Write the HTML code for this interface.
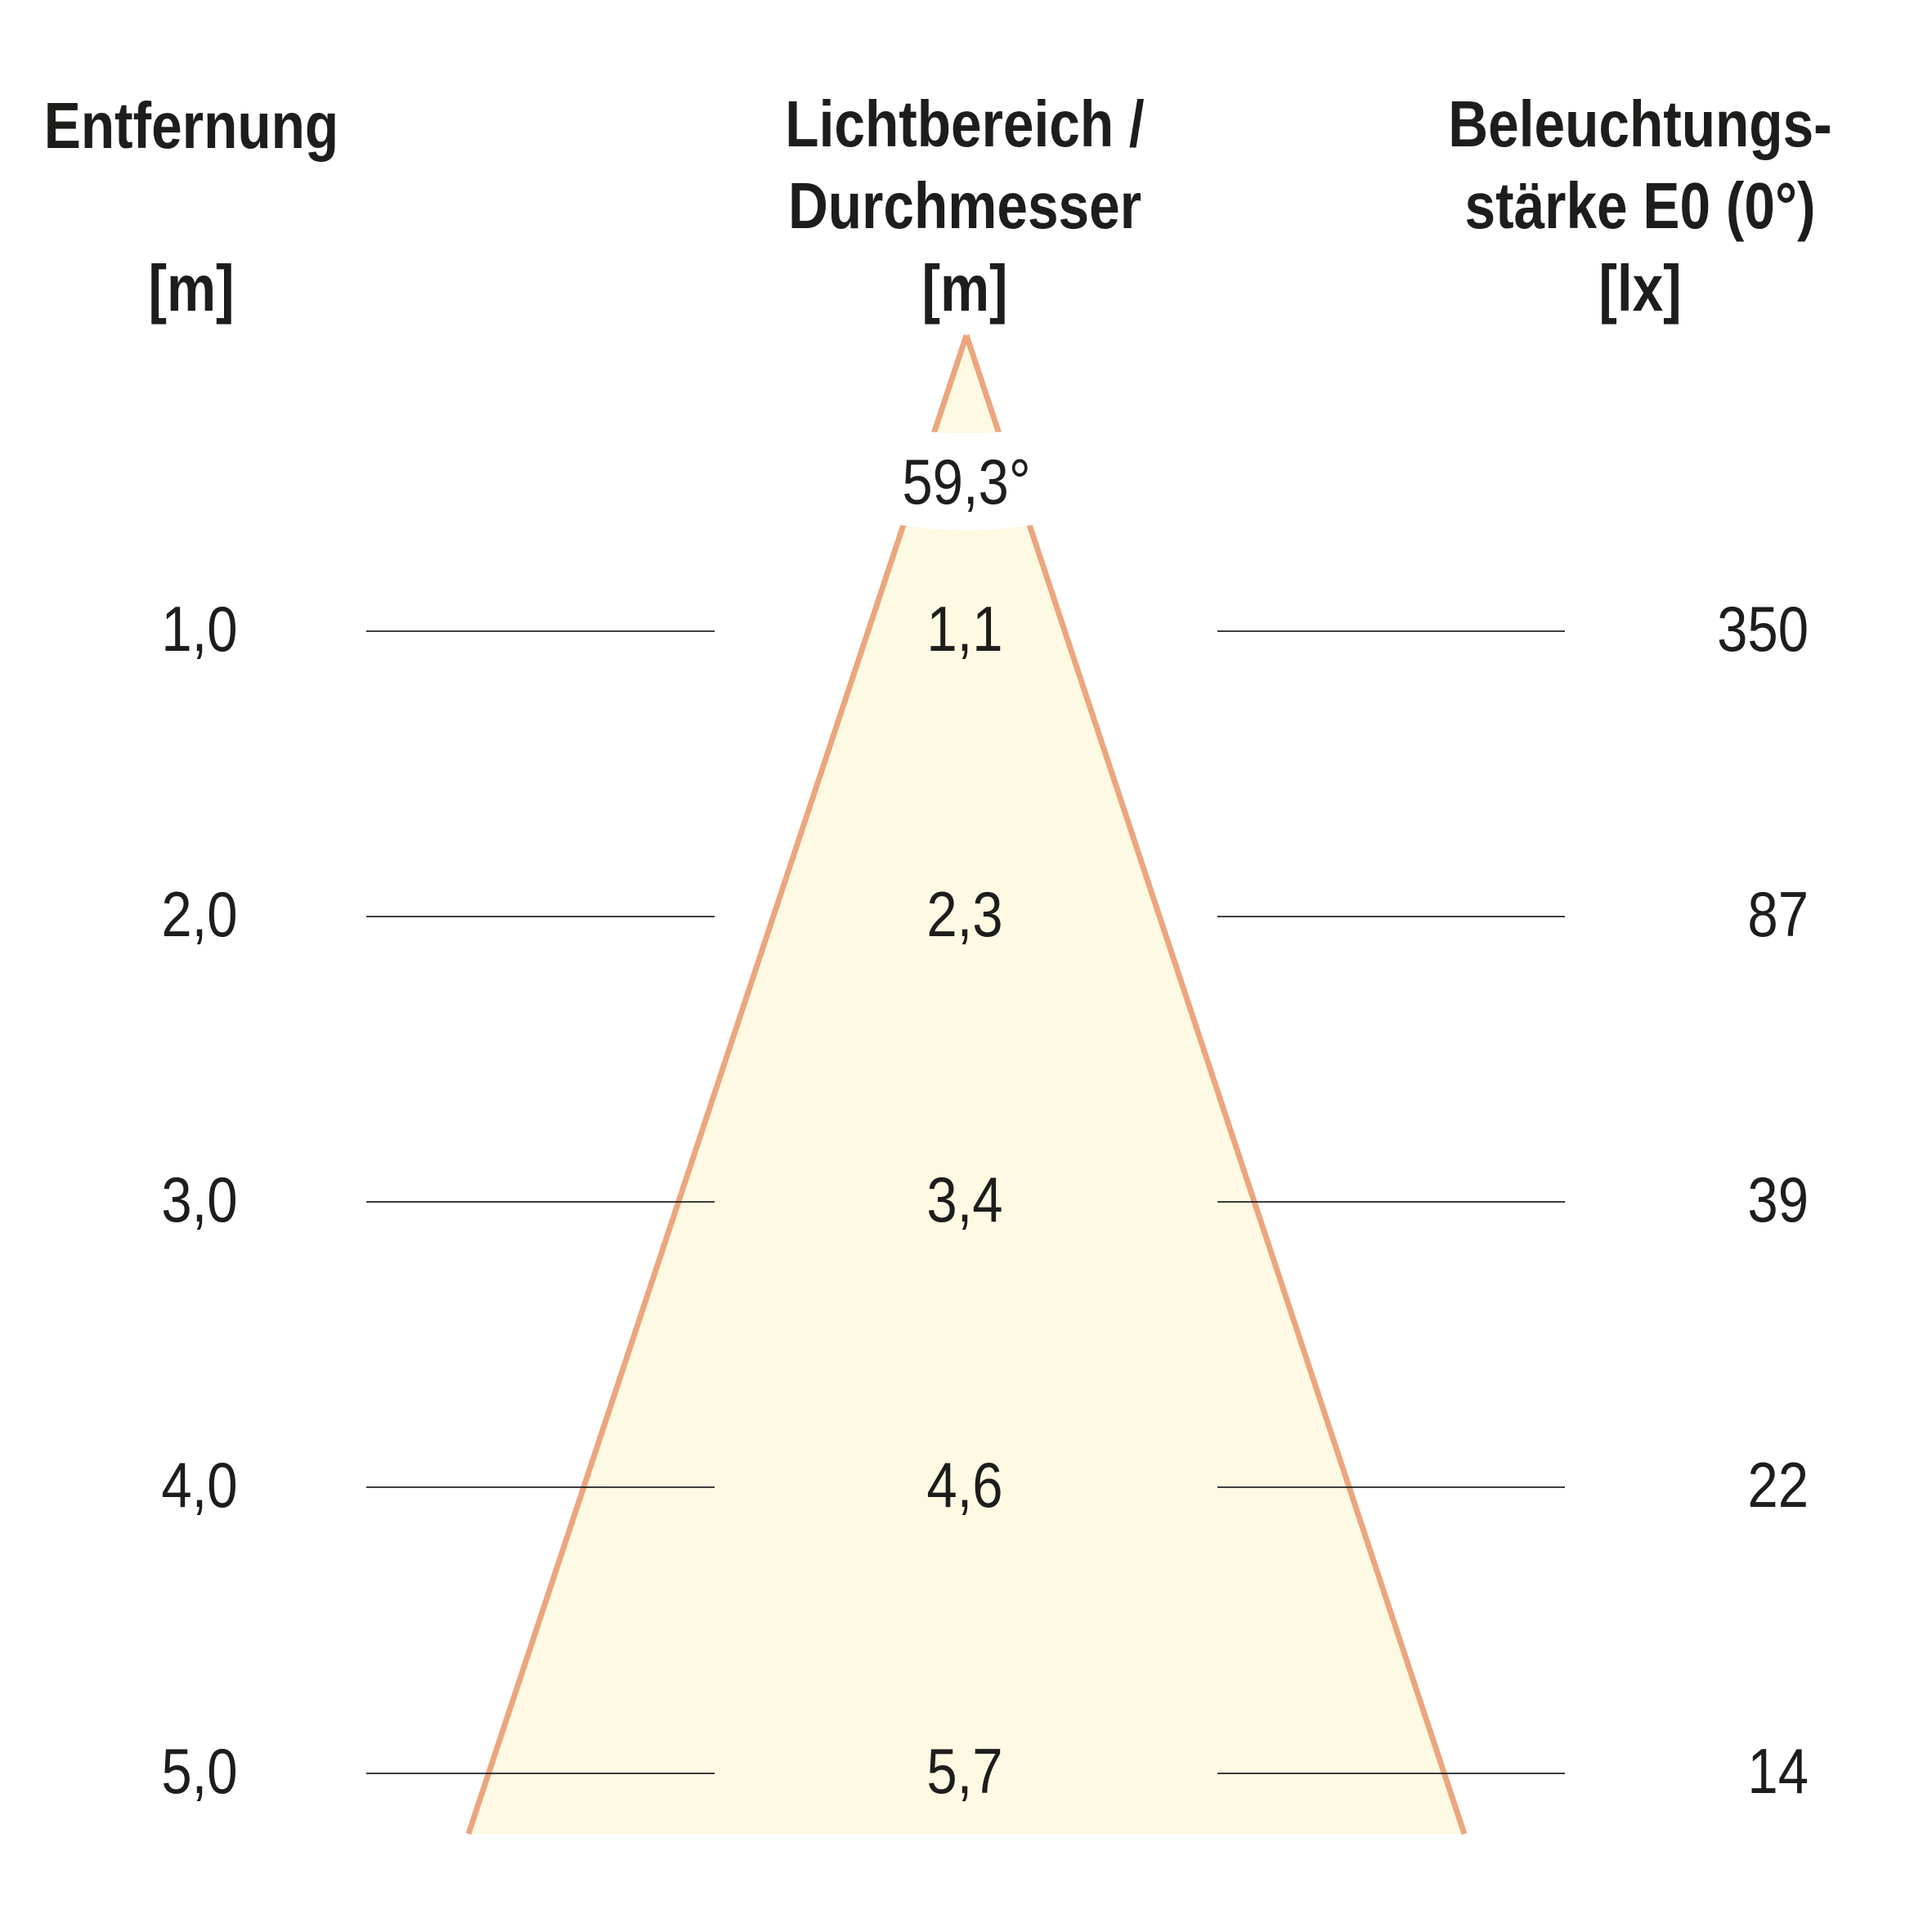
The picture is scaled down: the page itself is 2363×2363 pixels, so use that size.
<!DOCTYPE html>
<html><head><meta charset="utf-8"><style>html,body{margin:0;padding:0;background:#fff}svg{display:block}</style></head>
<body>
<svg width="2363" height="2363" viewBox="0 0 2363 2363" xmlns="http://www.w3.org/2000/svg">
<rect width="2363" height="2363" fill="#fff"/>
<polygon points="1182,410 573,2243 1791,2243" fill="#fdf9e2"/>
<line x1="1182" y1="410" x2="573" y2="2243" stroke="#eba67e" stroke-width="7"/>
<line x1="1182" y1="410" x2="1791" y2="2243" stroke="#eba67e" stroke-width="7"/>
<path d="M1080,520 Q1182,540 1284,520 L1300,635 Q1182,662 1064,635 Z" fill="#fff"/>
<g stroke="#222" stroke-width="1.7">
<line x1="448" y1="772" x2="874" y2="772"/><line x1="1489" y1="772" x2="1914" y2="772"/>
<line x1="448" y1="1121" x2="874" y2="1121"/><line x1="1489" y1="1121" x2="1914" y2="1121"/>
<line x1="448" y1="1470" x2="874" y2="1470"/><line x1="1489" y1="1470" x2="1914" y2="1470"/>
<line x1="448" y1="1819" x2="874" y2="1819"/><line x1="1489" y1="1819" x2="1914" y2="1819"/>
<line x1="448" y1="2169" x2="874" y2="2169"/><line x1="1489" y1="2169" x2="1914" y2="2169"/>
</g>
<g font-family="'Liberation Sans', sans-serif" font-weight="bold" font-size="80" fill="#1d1d1b" text-anchor="middle">
<text transform="translate(234,181) scale(0.845,1)">Entfernung</text>
<text transform="translate(234,380) scale(0.845,1)">[m]</text>
<text transform="translate(1180,179) scale(0.845,1)">Lichtbereich /</text>
<text transform="translate(1180,279) scale(0.845,1)">Durchmesser</text>
<text transform="translate(1180,380) scale(0.845,1)">[m]</text>
<text transform="translate(2006,179) scale(0.845,1)">Beleuchtungs-</text>
<text transform="translate(2006,279) scale(0.845,1)">stärke E0 (0°)</text>
<text transform="translate(2006,380) scale(0.845,1)">[lx]</text>
</g>
<g font-family="'Liberation Sans', sans-serif" font-size="78" fill="#1d1d1b" text-anchor="middle">
<text transform="translate(1182,616) scale(0.86,1)">59,3°</text>
<text transform="translate(244,796) scale(0.86,1)">1,0</text>
<text transform="translate(244,1145) scale(0.86,1)">2,0</text>
<text transform="translate(244,1494) scale(0.86,1)">3,0</text>
<text transform="translate(244,1843) scale(0.86,1)">4,0</text>
<text transform="translate(244,2193) scale(0.86,1)">5,0</text>
<text transform="translate(1180,796) scale(0.86,1)">1,1</text>
<text transform="translate(1180,1145) scale(0.86,1)">2,3</text>
<text transform="translate(1180,1494) scale(0.86,1)">3,4</text>
<text transform="translate(1180,1843) scale(0.86,1)">4,6</text>
<text transform="translate(1180,2193) scale(0.86,1)">5,7</text>
</g>
<g font-family="'Liberation Sans', sans-serif" font-size="78" fill="#1d1d1b" text-anchor="end">
<text transform="translate(2212,796) scale(0.86,1)">350</text>
<text transform="translate(2212,1145) scale(0.86,1)">87</text>
<text transform="translate(2212,1494) scale(0.86,1)">39</text>
<text transform="translate(2212,1843) scale(0.86,1)">22</text>
<text transform="translate(2212,2193) scale(0.86,1)">14</text>
</g>
</svg>
</body></html>
